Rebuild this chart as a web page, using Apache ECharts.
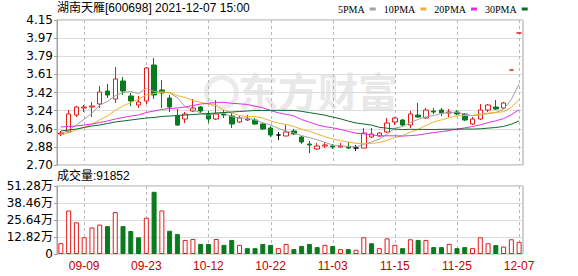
<!DOCTYPE html>
<html><head><meta charset="utf-8">
<script src="https://cdn.jsdelivr.net/npm/echarts@6/dist/echarts.min.js"></script>
<style>html,body{margin:0;padding:0;background:#fff}#c{width:578px;height:276px}</style>
</head><body><div id="c"></div>
<script>
const dates = ['09-06','09-07','09-08','09-09','09-10','09-13','09-14','09-15','09-16','09-17','09-22','09-23','09-24','09-27','09-28','09-29','09-30','10-08','10-11','10-12','10-13','10-14','10-15','10-18','10-19','10-20','10-21','10-22','10-25','10-26','10-27','10-28','10-29','11-01','11-02','11-03','11-04','11-05','11-08','11-09','11-10','11-11','11-12','11-15','11-16','11-17','11-18','11-19','11-22','11-23','11-24','11-25','11-26','11-29','11-30','12-01','12-02','12-03','12-06','12-07'];
const openP  = [3.01,3.03,3.20,3.27,3.28,3.31,3.44,3.36,3.54,3.39,3.30,3.34,3.70,3.45,3.37,3.19,3.16,3.24,3.28,3.21,3.16,3.21,3.19,3.13,3.15,3.15,3.11,3.07,3.00,2.99,3.04,2.98,2.91,2.86,2.89,2.89,2.88,2.88,2.87,2.87,2.98,2.99,3.03,3.13,3.15,3.10,3.20,3.17,3.24,3.25,3.22,3.23,3.21,3.11,3.16,3.25,3.28,3.27,3.65,4.02];
const closeP = [3.02,3.21,3.28,3.28,3.29,3.43,3.40,3.56,3.44,3.34,3.33,3.67,3.40,3.42,3.28,3.10,3.21,3.27,3.24,3.16,3.21,3.20,3.11,3.17,3.16,3.11,3.06,3.00,3.00,3.03,3.01,2.93,2.90,2.89,2.90,2.88,2.89,2.87,2.87,3.02,3.01,3.02,3.12,3.17,3.10,3.21,3.18,3.25,3.23,3.22,3.23,3.21,3.15,3.16,3.25,3.30,3.26,3.32,3.65,4.02];
const lowP   = [2.99,3.02,3.18,3.23,3.18,3.27,3.37,3.32,3.40,3.29,3.27,3.31,3.36,3.27,3.23,3.09,3.12,3.23,3.22,3.12,3.15,3.17,3.07,3.12,3.14,3.10,3.05,2.98,2.95,2.99,3.00,2.91,2.82,2.85,2.87,2.86,2.87,2.86,2.84,2.87,2.97,2.98,3.02,3.10,3.09,3.07,3.17,3.16,3.21,3.19,3.18,3.20,3.14,3.10,3.15,3.23,3.25,3.26,3.65,4.02];
const highP  = [3.04,3.25,3.29,3.30,3.33,3.49,3.51,3.68,3.58,3.42,3.39,3.68,3.77,3.55,3.40,3.26,3.23,3.36,3.29,3.24,3.35,3.25,3.22,3.19,3.20,3.17,3.12,3.09,3.03,3.10,3.06,2.99,2.94,2.92,2.93,2.91,2.92,2.93,2.90,3.07,3.07,3.03,3.17,3.18,3.16,3.24,3.32,3.27,3.27,3.27,3.26,3.25,3.22,3.18,3.31,3.31,3.35,3.33,3.65,4.02];
const volume = [81500,328000,239000,126000,200000,222000,210000,316000,210000,173000,126000,274000,469000,328000,175000,150000,106000,113000,76000,76000,113000,69000,106000,69000,44000,44000,76000,69000,44000,76000,37000,61000,76000,52000,69000,61000,37000,37000,32000,126000,81000,44000,118000,69000,44000,111000,106000,106000,52000,52000,76000,44000,52000,44000,126000,81000,67000,56000,111000,91852];
const ma5  = [3.01,3.05,3.10,3.158,3.216,3.298,3.336,3.392,3.424,3.434,3.414,3.468,3.436,3.432,3.42,3.374,3.282,3.256,3.22,3.196,3.218,3.216,3.184,3.17,3.17,3.15,3.122,3.10,3.066,3.04,3.02,2.994,2.974,2.952,2.926,2.90,2.892,2.886,2.882,2.906,2.932,2.958,3.008,3.068,3.084,3.124,3.156,3.182,3.194,3.218,3.222,3.228,3.208,3.194,3.20,3.214,3.224,3.258,3.356,3.51];
const ma10 = [3.00,3.023,3.051,3.079,3.108,3.151,3.191,3.247,3.291,3.325,3.356,3.402,3.414,3.428,3.427,3.394,3.375,3.346,3.326,3.308,3.296,3.249,3.22,3.195,3.183,3.184,3.169,3.142,3.118,3.105,3.085,3.058,3.037,3.009,2.983,2.96,2.943,2.93,2.917,2.916,2.916,2.925,2.947,2.975,2.995,3.028,3.057,3.095,3.131,3.151,3.173,3.192,3.195,3.194,3.209,3.218,3.226,3.233,3.275,3.355];
const ma20 = [3.08,3.085,3.09,3.10,3.11,3.125,3.14,3.16,3.175,3.19,3.20,3.225,3.24,3.255,3.265,3.27,3.28,3.295,3.31,3.317,3.326,3.326,3.317,3.312,3.305,3.289,3.272,3.244,3.222,3.207,3.191,3.154,3.129,3.102,3.083,3.072,3.056,3.036,3.018,3.011,3.001,2.992,2.992,2.992,2.989,2.994,3.00,3.013,3.024,3.034,3.045,3.059,3.071,3.085,3.102,3.123,3.142,3.164,3.203,3.253];
const ma30 = [3.04,3.05,3.06,3.075,3.09,3.10,3.115,3.13,3.14,3.15,3.16,3.17,3.175,3.185,3.19,3.195,3.20,3.205,3.21,3.215,3.22,3.225,3.23,3.235,3.24,3.245,3.245,3.247,3.247,3.246,3.246,3.236,3.224,3.211,3.198,3.179,3.162,3.139,3.12,3.11,3.099,3.077,3.068,3.06,3.054,3.057,3.056,3.056,3.055,3.057,3.058,3.058,3.06,3.059,3.062,3.069,3.075,3.086,3.108,3.141];
const priceTicks = ['2.70','2.88','3.06','3.24','3.42','3.61','3.79','3.97','4.15'];
const volTicks = ['0','12.82万','25.64万','38.46万','51.28万'];
const dateTicks = ['09-09','09-23','10-12','10-22','11-03','11-15','11-25','12-07'];
const maNames = ['5PMA','10PMA','20PMA','30PMA'];
const titleText = '湖南天雁[600698] 2021-12-07 15:00';
const volLabel = '成交量:91852';

const RED = '#e41b1b', GREEN = '#0a7a1e';
const PMIN = 2.70, PMAX = 4.15, PINT = 0.18125;
const VMAX = 512800, VINT = 128200;
const F = "'DejaVu Sans', 'Noto Sans CJK SC', sans-serif";
const showIdx = (i) => dateTicks.indexOf(dates[i]) >= 0;

const candleData = dates.map((d, i) => {
  const v = [openP[i], closeP[i], lowP[i], highP[i]];
  if (i > 0 && openP[i] === closeP[i] && closeP[i] === closeP[i - 1]) {
    return { value: v, itemStyle: { color: '#000', color0: '#000', borderColor: '#000', borderColor0: '#000' } };
  }
  return v;
});
const volData = volume.map((v, i) => {
  const up = i === 0 || closeP[i] >= closeP[i - 1];
  return { value: v, itemStyle: up ? { color: '#fff', borderColor: RED, borderWidth: 1 } : { color: GREEN, borderColor: GREEN, borderWidth: 1 } };
});
// vertical dashed guides at the labelled dates: x from the category axis, dashes drawn as short segments
const guideRender = (params, api) => {
  const cs = params.coordSys;
  const x = Math.round(api.coord([api.value(0), api.value(1)])[0]) + 0.5;
  const segs = [];
  for (let y = cs.y; y < cs.y + cs.height; y += 6) {
    segs.push({ type: 'line', silent: true,
      shape: { x1: x, y1: y, x2: x, y2: Math.min(y + 3, cs.y + cs.height) },
      style: { stroke: '#b8b8b8', lineWidth: 1 } });
  }
  return { type: 'group', children: segs };
};

const chart = echarts.init(document.getElementById('c'), null, { renderer: 'svg' });
const xCommon = {
  type: 'category', data: dates, boundaryGap: true,
  axisLine: { show: false }, axisTick: { show: false }, splitLine: { show: false }
};
chart.setOption({
  animation: false,
  title: { text: titleText, left: 57, top: 2, padding: 0, textStyle: { fontSize: 12, fontWeight: 'normal', color: '#000', fontFamily: "'Liberation Sans', 'Noto Sans CJK SC', sans-serif" } },
  legend: {
    data: maNames, left: 338, top: 4, padding: 0, align: 'right', icon: 'rect', itemWidth: 6, itemHeight: 3, itemGap: 8,
    textStyle: { fontSize: 10, color: '#000', fontFamily: "'Liberation Serif', serif" }
  },
  graphic: [
    { type: 'text', left: 238, top: 70, z: -10, silent: true, style: { text: '东方财富', font: 'bold 40px "Noto Sans CJK SC"', fill: '#e8e8e8' } },
    { type: 'circle', left: 204, top: 75, z: -10, silent: true, shape: { r: 15 }, style: { fill: 'none', stroke: '#ebebeb', lineWidth: 5 } },
    { type: 'text', left: 57, top: 170, style: { text: volLabel, font: '12px "Liberation Sans", "Noto Sans CJK SC"', fill: '#000' } }
  ],
  grid: [
    { left: 57, right: 55, top: 20, height: 145, show: true, borderColor: '#a0a0a0', borderWidth: 1 },
    { left: 57, right: 55, top: 186, height: 68, show: true, borderColor: '#a0a0a0', borderWidth: 1 }
  ],
  xAxis: [
    Object.assign({}, xCommon, { gridIndex: 0, axisLabel: { show: false } }),
    Object.assign({}, xCommon, { gridIndex: 1, axisLabel: { show: true, interval: (i) => showIdx(i), color: '#c00000', fontSize: 12, margin: 6, fontFamily: "'Liberation Sans', sans-serif" } })
  ],
  yAxis: [
    { gridIndex: 0, type: 'value', min: PMIN, max: PMAX, interval: PINT,
      axisLine: { show: true, lineStyle: { color: '#a0a0a0' } }, axisTick: { show: true, length: 3, lineStyle: { color: '#a0a0a0' } },
      axisLabel: { color: '#000', fontSize: 12, margin: 4, fontFamily: F, formatter: (v) => priceTicks[Math.round((v - PMIN) / PINT)] },
      splitLine: { show: true, lineStyle: { color: '#dcdcdc', width: 1 } } },
    { gridIndex: 1, type: 'value', min: 0, max: VMAX, interval: VINT,
      axisLine: { show: true, lineStyle: { color: '#a0a0a0' } }, axisTick: { show: true, length: 3, lineStyle: { color: '#a0a0a0' } },
      axisLabel: { color: '#000', fontSize: 12, margin: 4, fontFamily: F, formatter: (v) => volTicks[Math.round(v / VINT)] },
      splitLine: { show: true, lineStyle: { color: '#dcdcdc', width: 1 } } }
  ],
  series: [
    { type: 'custom', name: 'guideP', xAxisIndex: 0, yAxisIndex: 0, z: 1, silent: true, clip: false,
      data: dateTicks.map((d) => [d, PMIN]), encode: { x: 0, y: 1 }, renderItem: guideRender },
    { type: 'custom', name: 'guideV', xAxisIndex: 1, yAxisIndex: 1, z: 1, silent: true, clip: false,
      data: dateTicks.map((d) => [d, 0]), encode: { x: 0, y: 1 }, renderItem: guideRender },
    { type: 'candlestick', name: 'K', xAxisIndex: 0, yAxisIndex: 0, data: candleData, barWidth: 5, z: 2,
      itemStyle: { color: '#fff', color0: GREEN, borderColor: RED, borderColor0: GREEN, borderWidth: 1 } },
    { type: 'line', name: maNames[0], data: ma5, symbol: 'none', color: '#a0a0a0', lineStyle: { width: 1, color: '#a0a0a0' }, z: 3 },
    { type: 'line', name: maNames[1], data: ma10, symbol: 'none', color: '#f0b030', lineStyle: { width: 1, color: '#f0b030' }, z: 3 },
    { type: 'line', name: maNames[2], data: ma20, symbol: 'none', color: '#e030e0', lineStyle: { width: 1, color: '#e030e0' }, z: 3 },
    { type: 'line', name: maNames[3], data: ma30, symbol: 'none', color: '#0c6a2c', lineStyle: { width: 1, color: '#0c6a2c' }, z: 3 },
    { type: 'bar', name: 'VOL', xAxisIndex: 1, yAxisIndex: 1, data: volData, barWidth: 5, z: 2 }
  ]
});
</script></body></html>
